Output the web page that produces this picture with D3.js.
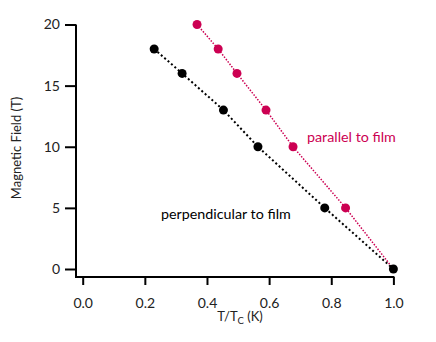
<!DOCTYPE html>
<html><head><meta charset="utf-8">
<script src="https://cdn.jsdelivr.net/npm/d3@7"></script>
<style>body{margin:0;background:#fff}svg{display:block}</style>
</head><body>
<script>
const perpX = [0.23, 0.32, 0.453, 0.564, 0.779, 1.0];
const perpY = [18, 16, 13, 10, 5, 0];
const paraX = [0.368, 0.436, 0.4965, 0.59, 0.677, 0.846, 1.0];
const paraY = [20, 18, 16, 13, 10, 5, 0];
const xTicks = [0.0, 0.2, 0.4, 0.6, 0.8, 1.0];
const yTicks = [0, 5, 10, 15, 20];

const W = 436, H = 342;
const font = "Lato, 'Open Sans', sans-serif";
const red = "#cc0052";
const svg = d3.select("body").append("svg").attr("width", W).attr("height", H);
const x = d3.scaleLinear().domain([0, 1]).range([82.7, 393.4]);
const y = d3.scaleLinear().domain([0, 20]).range([269, 24.5]);

const yAxis = svg.append("g").attr("transform", "translate(76,0)")
  .call(d3.axisLeft(y).tickValues(yTicks).tickFormat(d3.format("d")).tickSizeOuter(0).tickSize(11).tickPadding(5));
yAxis.select(".domain").attr("d", "M0,24.5V277.5");
const xAxis = svg.append("g").attr("transform", "translate(0,277)")
  .call(d3.axisBottom(x).tickValues(xTicks).tickFormat(d3.format(".1f")).tickSizeOuter(0).tickSize(8).tickPadding(13));
xAxis.select(".domain").attr("d", "M75,0H394.4");
svg.selectAll(".domain, .tick line").attr("stroke", "#000").attr("stroke-width", 2);
svg.selectAll(".tick text").attr("font-family", font).attr("font-size", 14).attr("fill", "#222");

const perp = perpX.map((v, i) => [v, perpY[i]]);
const para = paraX.map((v, i) => [v, paraY[i]]);
const line = d3.line().x(d => x(d[0])).y(d => y(d[1]));

svg.append("path").attr("d", line(para)).attr("fill", "none").attr("stroke", red)
  .attr("stroke-width", 1.5).attr("stroke-dasharray", "1.5,1.5");
svg.append("path").attr("d", line(perp)).attr("fill", "none").attr("stroke", "#000")
  .attr("stroke-width", 2).attr("stroke-dasharray", "2,2.5");

svg.selectAll(".para").data(para.slice(0, -1)).enter().append("circle")
  .attr("cx", d => x(d[0])).attr("cy", d => y(d[1])).attr("r", 4.5).attr("fill", red);
svg.selectAll(".perp").data(perp).enter().append("circle")
  .attr("cx", d => x(d[0])).attr("cy", d => y(d[1])).attr("r", 4.5).attr("fill", "#000");

svg.append("text").attr("x", 307).attr("y", 141.5).attr("font-family", font).attr("font-size", 14.3)
  .attr("fill", red).text("parallel to film");
svg.append("text").attr("x", 161).attr("y", 219).attr("font-family", font).attr("font-size", 14.3)
  .attr("fill", "#000").text("perpendicular to film");

svg.append("text").attr("transform", "translate(21,148) rotate(-90)").attr("text-anchor", "middle")
  .attr("font-family", font).attr("font-size", 13).attr("fill", "#222").text("Magnetic Field (T)");

const xt = svg.append("text").attr("x", 240).attr("y", 321).attr("text-anchor", "middle")
  .attr("font-family", font).attr("font-size", 13).attr("fill", "#222");
xt.append("tspan").text("T/T");
xt.append("tspan").attr("font-size", 9.5).attr("dy", 3).text("C");
xt.append("tspan").attr("dy", -3).text(" (K)");
</script>
</body></html>
